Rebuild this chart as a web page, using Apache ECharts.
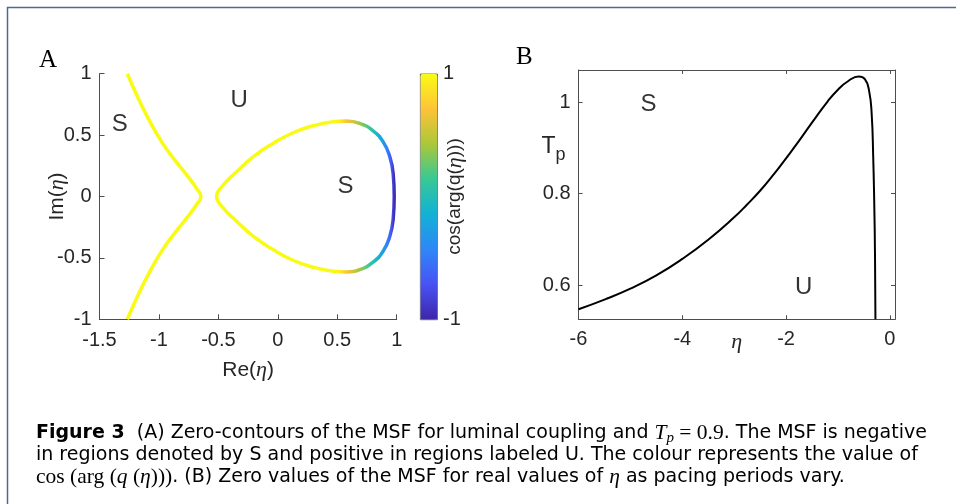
<!DOCTYPE html>
<html>
<head>
<meta charset="utf-8">
<script src="https://cdn.jsdelivr.net/npm/echarts@6/dist/echarts.min.js"></script>
<style>
html, body { margin: 0; padding: 0; background: #fff; }
#chart { width: 956px; height: 504px; }
</style>
</head>
<body>
<div id="chart"></div>
<script>
// ---- panel A : zero contours in the eta plane ----
var leftRe = [-1.266, -1.174, -1.090, -0.977, -0.866, -0.754, -0.683, -0.647, -0.683, -0.754, -0.866, -0.977, -1.090, -1.174, -1.266];
var leftIm = [1.0, 0.80, 0.636, 0.445, 0.296, 0.160, 0.065, 0, -0.065, -0.160, -0.296, -0.445, -0.636, -0.80, -1.0];

var loopRe = [0.577, 0.465, 0.297, 0.128, -0.040, -0.208, -0.347, -0.460, -0.515, -0.460, -0.347, -0.208, -0.040, 0.128, 0.297, 0.465, 0.577, 0.689, 0.801, 0.886, 0.942, 0.970, 0.979, 0.970, 0.942, 0.886, 0.801, 0.689, 0.577];
var loopIm = [0.614, 0.608, 0.576, 0.519, 0.432, 0.323, 0.201, 0.092, 0, -0.092, -0.201, -0.323, -0.432, -0.519, -0.576, -0.608, -0.614, -0.595, -0.535, -0.445, -0.323, -0.188, 0, 0.188, 0.323, 0.445, 0.535, 0.595, 0.614];

// cos(arg(q(eta))) read along the right side of the loop
var colourRe = [0.45, 0.52, 0.577, 0.689, 0.77, 0.85, 0.92, 0.955, 0.979];
var colourVal = [1, 0.95, 0.72, 0.4, 0.14, -0.14, -0.45, -0.7, -0.96];

var labelsA = [['S', -1.329, 0.59], ['U', -0.325, 0.78], ['S', 0.569, 0.084]];

// ---- panel B : zero values for real eta ----
var etaB = [-6.0, -5.5, -5.0, -4.5, -4.0, -3.5, -3.0, -2.75, -2.5, -2.25, -2.0, -1.75, -1.5, -1.2, -1.0, -0.8, -0.6, -0.48, -0.4, -0.35, -0.32, -0.30, -0.285, -0.277];
var tpB = [0.547, 0.568, 0.592, 0.621, 0.657, 0.699, 0.748, 0.776, 0.806, 0.840, 0.877, 0.915, 0.955, 1.001, 1.027, 1.046, 1.056, 1.050, 1.025, 0.975, 0.880, 0.780, 0.660, 0.525];
var xTicksB = [-6, -4, -2, 0];
var yTicksB = [0.6, 0.8, 1];
var labelsB = [['S', -4.65, 0.994], ['U', -1.66, 0.595]];

var parula = ['#3e26a8', '#4852f4', '#2e87f7', '#12b1d6', '#37c897', '#abc739', '#fec338', '#f9fb15'];

var SANS = '"Liberation Sans", Arial, sans-serif';
var CAPSANS = '"DejaVu Sans", sans-serif';
var SERIF = '"Liberation Serif", "Times New Roman", serif';
var INK = '#262626';
var AXIS = '#4d4d4d';

function pairs(xs, ys) {
  return xs.map(function (x, i) { return [x, ys[i]]; });
}
function lerp(xs, ys, x) {
  if (x <= xs[0]) return ys[0];
  for (var i = 1; i < xs.length; i++) {
    if (x <= xs[i]) {
      var f = (x - xs[i - 1]) / (xs[i] - xs[i - 1]);
      return ys[i - 1] + f * (ys[i] - ys[i - 1]);
    }
  }
  return ys[ys.length - 1];
}
function parulaAt(t) {
  t = Math.max(0, Math.min(1, t));
  var p = t * (parula.length - 1);
  var i = Math.min(Math.floor(p), parula.length - 2);
  var f = p - i;
  var a = parseInt(parula[i].slice(1), 16), b = parseInt(parula[i + 1].slice(1), 16);
  var ch = [16, 8, 0].map(function (s) {
    var ca = (a >> s) & 255, cb = (b >> s) & 255;
    return Math.round(ca + f * (cb - ca));
  });
  return 'rgb(' + ch.join(',') + ')';
}

// colours along Re(eta) for the loop, from the cos(arg q) readings
var loopColours = [];
var nStops = 40;
for (var k = 0; k < nStops; k++) {
  var re = colourRe[0] + (colourRe[colourRe.length - 1] - colourRe[0]) * k / (nStops - 1);
  loopColours.push(parulaAt((lerp(colourRe, colourVal, re) + 1) / 2));
}

function textLabels(list, xi, yi) {
  return {
    type: 'scatter', xAxisIndex: xi, yAxisIndex: yi, silent: true,
    symbolSize: 1, itemStyle: { color: 'transparent' },
    data: list.map(function (d) { return { name: d[0], value: [d[1], d[2]] }; }),
    label: {
      show: true, position: 'inside', formatter: '{b}',
      fontFamily: SANS, fontSize: 24, color: '#000'
    }
  };
}

var tickLabel = { color: INK, fontFamily: SANS, fontSize: 20 };
var etaRich = { e: { fontFamily: SERIF, fontStyle: 'italic', fontSize: 22, color: INK } };
var capSize = 19;

var chart = echarts.init(document.getElementById('chart'));
chart.setOption({
  backgroundColor: '#fff',
  animation: false,
  grid: [
    { left: 99.5, top: 73.7, width: 297.2, height: 245.6, containLabel: false, outerBoundsMode: 'none' },
    { left: 578.5, top: 70, width: 316.5, height: 249.3, containLabel: false, outerBoundsMode: 'none' },
    { left: 420, top: 73.7, width: 17, height: 245.6, containLabel: false, outerBoundsMode: 'none' }
  ],
  xAxis: [
    {
      gridIndex: 0, type: 'value', min: -1.5, max: 1, interval: 0.5,
      name: 'Re({e|η})', nameLocation: 'middle', nameGap: 40, nameMoveOverlap: false,
      nameTextStyle: { color: INK, fontFamily: SANS, fontSize: 21, rich: etaRich },
      axisLine: { onZero: false, lineStyle: { color: AXIS, width: 1 } },
      axisTick: { inside: true, length: 5, lineStyle: { color: AXIS } },
      axisLabel: Object.assign({ margin: 11 }, tickLabel),
      splitLine: { show: false }
    },
    {
      gridIndex: 1, type: 'value', min: -6, max: 0.1,
      name: '{e|η}', nameLocation: 'middle', nameGap: 12, nameMoveOverlap: false,
      nameTextStyle: { color: INK, fontFamily: SANS, fontSize: 20, rich: etaRich },
      axisLine: { onZero: false, lineStyle: { color: AXIS, width: 1 } },
      axisTick: { inside: true, length: 4, customValues: xTicksB, lineStyle: { color: AXIS } },
      axisLabel: Object.assign({ margin: 10, customValues: xTicksB }, tickLabel),
      splitLine: { show: false }
    },
    {
      gridIndex: 1, type: 'value', position: 'top', min: -6, max: 0.1,
      axisLine: { onZero: false, lineStyle: { color: AXIS, width: 1 } },
      axisTick: { inside: true, length: 4, customValues: xTicksB, lineStyle: { color: AXIS } },
      axisLabel: { show: false },
      splitLine: { show: false }
    },
    { gridIndex: 2, type: 'value', min: 0, max: 1, show: false }
  ],
  yAxis: [
    {
      gridIndex: 0, type: 'value', min: -1, max: 1, interval: 0.5,
      name: 'Im({e|η})', nameLocation: 'middle', nameGap: 31, nameRotate: 90, nameMoveOverlap: false,
      nameTextStyle: { color: INK, fontFamily: SANS, fontSize: 21, rich: etaRich },
      axisLine: { show: true, onZero: false, lineStyle: { color: AXIS, width: 1 } },
      axisTick: { show: true, inside: true, length: 5, lineStyle: { color: AXIS } },
      axisLabel: Object.assign({ margin: 8 }, tickLabel),
      splitLine: { show: false }
    },
    {
      gridIndex: 1, type: 'value', min: 0.525, max: 1.07,
      name: '{t|T}{p|p}', nameLocation: 'middle', nameGap: 13, nameRotate: 0, nameMoveOverlap: false,
      nameTextStyle: {
        color: INK, fontFamily: SANS, padding: [0, 0, 96, 0],
        rich: {
          t: { fontFamily: SANS, fontSize: 23, color: INK, lineHeight: 34, verticalAlign: 'middle' },
          p: { fontFamily: SANS, fontSize: 18, color: INK, verticalAlign: 'bottom' }
        }
      },
      axisLine: { show: true, onZero: false, lineStyle: { color: AXIS, width: 1 } },
      axisTick: { show: true, inside: true, length: 4, customValues: yTicksB, lineStyle: { color: AXIS } },
      axisLabel: Object.assign({ margin: 8, customValues: yTicksB }, tickLabel),
      splitLine: { show: false }
    },
    {
      gridIndex: 1, type: 'value', position: 'right', min: 0.525, max: 1.07,
      axisLine: { show: true, onZero: false, lineStyle: { color: AXIS, width: 1 } },
      axisTick: { show: true, inside: true, length: 4, customValues: yTicksB, lineStyle: { color: AXIS } },
      axisLabel: { show: false },
      splitLine: { show: false }
    },
    {
      gridIndex: 2, type: 'value', position: 'right', min: -1, max: 1, interval: 2,
      name: 'cos(arg(q({e|η})))', nameLocation: 'middle', nameGap: 7, nameRotate: 90, nameMoveOverlap: false,
      nameTextStyle: { color: INK, fontFamily: SANS, fontSize: 19, rich: etaRich },
      axisLine: { show: false },
      axisTick: { show: false },
      axisLabel: Object.assign({ margin: 6 }, tickLabel),
      splitLine: { show: false }
    }
  ],
  visualMap: [
    {
      type: 'continuous', show: false, seriesIndex: 1, dimension: 0,
      min: colourRe[0], max: colourRe[colourRe.length - 1],
      inRange: { color: loopColours }
    },
    {
      type: 'continuous', seriesIndex: [], min: -1, max: 1,
      calculable: false, hoverLink: false, orient: 'vertical',
      left: 420, top: 73.7, itemWidth: 17, itemHeight: 245.6, padding: 0,
      borderColor: '#333', borderWidth: 0.8,
      inRange: { color: parula }
    }
  ],
  series: [
    {
      type: 'line', xAxisIndex: 0, yAxisIndex: 0, silent: true,
      data: pairs(leftRe, leftIm), smooth: 0.5, showSymbol: false,
      lineStyle: { color: parula[parula.length - 1], width: 3.5 }
    },
    {
      type: 'line', xAxisIndex: 0, yAxisIndex: 0, silent: true,
      data: pairs(loopRe, loopIm), smooth: 0.5, showSymbol: false,
      lineStyle: { width: 3.5 }
    },
    textLabels(labelsA, 0, 0),
    {
      type: 'line', xAxisIndex: 1, yAxisIndex: 1, silent: true,
      data: pairs(etaB, tpB), smooth: 0.5, showSymbol: false,
      lineStyle: { color: '#000', width: 2 }
    },
    textLabels(labelsB, 1, 1)
  ],
  graphic: [
    {
      type: 'rect', silent: true,
      shape: { x: 7.5, y: 7.5, width: 1000, height: 600 },
      style: { fill: 'none', stroke: '#50698c', lineWidth: 1.5 }
    },
    { type: 'text', left: 39, top: 48, style: { text: 'A', fontFamily: SERIF, fontSize: 25, fill: '#000' } },
    { type: 'text', left: 516, top: 45, style: { text: 'B', fontFamily: SERIF, fontSize: 25, fill: '#000' } },
    {
      type: 'text', x: 36, y: 433,
      style: {
        text: '{b|Figure 3}  (A) Zero-contours of the MSF for luminal coupling and {m|T}{s|p}{r| = 0.9}. The MSF is negative',
        fontFamily: CAPSANS, fontSize: capSize, fill: '#000', verticalAlign: 'middle',
        rich: {
          b: { fontFamily: CAPSANS, fontWeight: 'bold', fontSize: capSize, fill: '#000' },
          m: { fontFamily: SERIF, fontStyle: 'italic', fontSize: 21.5, fill: '#000', lineHeight: 26 },
          s: { fontFamily: SERIF, fontStyle: 'italic', fontSize: 15, fill: '#000', verticalAlign: 'bottom' },
          r: { fontFamily: SERIF, fontSize: 21.5, fill: '#000' }
        }
      }
    },
    {
      type: 'text', x: 36, y: 455,
      style: {
        text: 'in regions denoted by S and positive in regions labeled U. The colour represents the value of',
        fontFamily: CAPSANS, fontSize: capSize, fill: '#000', verticalAlign: 'middle'
      }
    },
    {
      type: 'text', x: 36, y: 477,
      style: {
        text: '{r|cos (arg (}{m|q}{r| (}{m|η}{r|)))}. (B) Zero values of the MSF for real values of {m|η} as pacing periods vary.',
        fontFamily: CAPSANS, fontSize: capSize, fill: '#000', verticalAlign: 'middle',
        rich: {
          m: { fontFamily: SERIF, fontStyle: 'italic', fontSize: 21.5, fill: '#000' },
          r: { fontFamily: SERIF, fontSize: 21.5, fill: '#000' }
        }
      }
    }
  ]
});
</script>
</body>
</html>
